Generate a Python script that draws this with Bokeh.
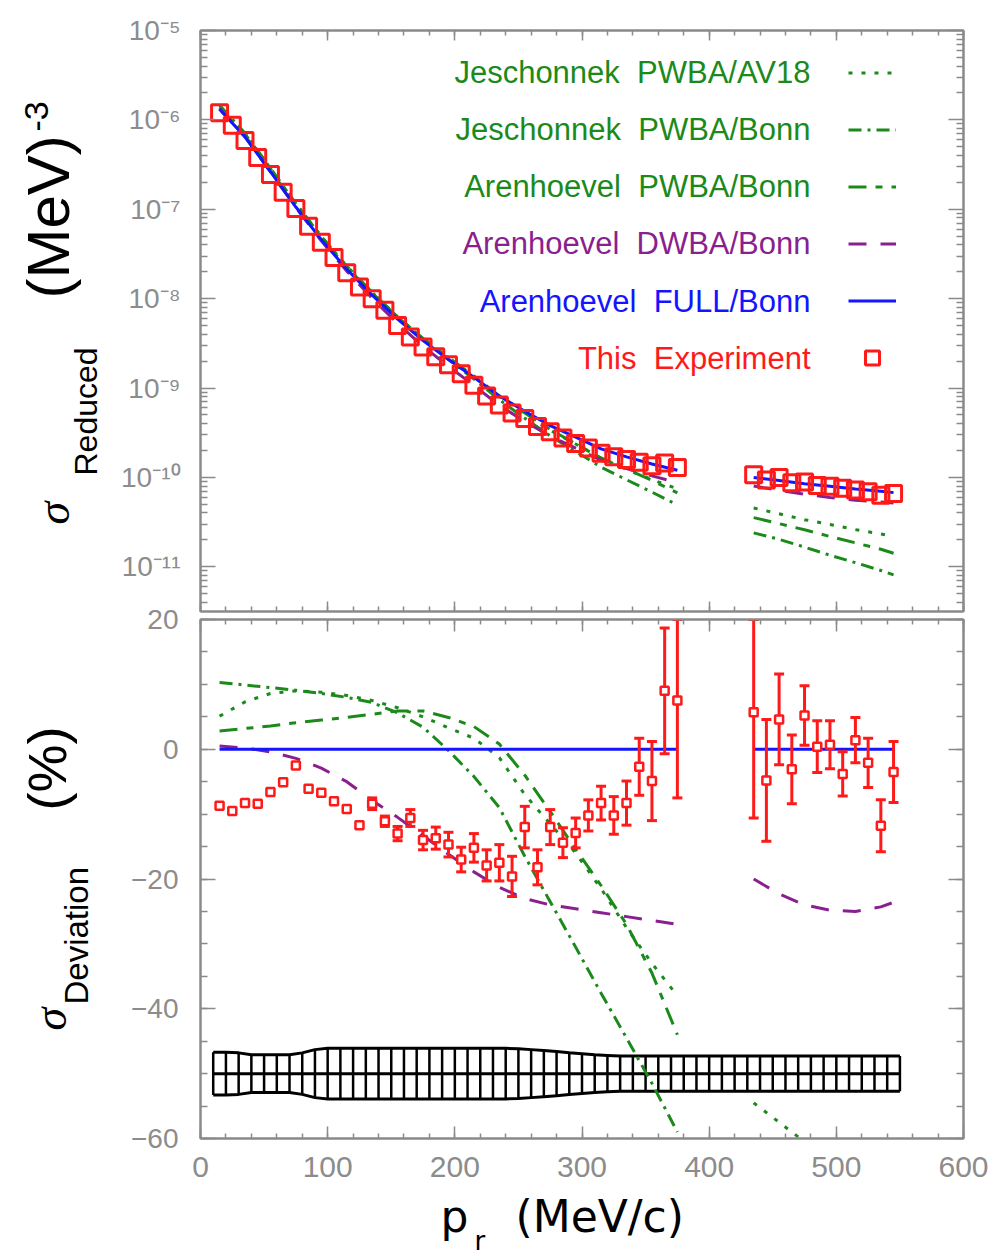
import math
import numpy as np
from bokeh.plotting import figure
from bokeh.layouts import column, row
from bokeh.models import (Range1d, LinearAxis, LogAxis, FixedTicker, Label, Legend,
                          LegendItem, CustomJSTickFormatter)
from bokeh.embed import file_html
from bokeh.resources import INLINE
from bokeh.core.properties import value

# ---------------- data ----------------
# measured points, p_r in MeV/c
pr_low = [15, 25, 35, 45, 55, 65, 75, 85, 95, 105, 115, 125, 135, 145, 155, 165, 175, 185,
          195, 205, 215, 225, 235, 245, 255, 265, 275, 285, 295, 305, 315, 325, 335, 345,
          355, 365, 375]
pr_high = [435, 445, 455, 465, 475, 485, 495, 505, 515, 525, 535, 545]

# reduced cross section, log10 of (MeV)^-3
log_sigma_low = [-5.92, -6.06, -6.23, -6.42, -6.61, -6.81, -6.99, -7.19, -7.37, -7.54, -7.71,
                 -7.87, -8.00, -8.13, -8.30, -8.43, -8.54, -8.65, -8.74, -8.84, -8.97, -9.09,
                 -9.19, -9.28, -9.34, -9.43, -9.49, -9.56, -9.62, -9.67, -9.73, -9.77, -9.80,
                 -9.83, -9.87, -9.84, -9.89]
log_sigma_high = [-9.97, -10.03, -10.00, -10.06, -10.05, -10.09, -10.10, -10.12, -10.14,
                  -10.16, -10.20, -10.18]

# deviation from FULL/Bonn (%) and statistical errors
dev_low = [-8.7, -9.5, -8.3, -8.4, -6.6, -5.1, -2.5, -6.1, -6.7, -8.0, -9.2, -11.7, -8.4,
           -11.1, -13.0, -10.6, -14.0, -13.7, -14.7, -17.0, -15.2, -17.9, -17.5, -19.6,
           -12.0, -18.2, -12.0, -14.4, -12.9, -10.2, -8.3, -10.2, -8.3, -2.7, -4.9, 9.0, 7.5]
err_low = [0, 0, 0, 0, 0, 0, 0, 0, 0, 0, 0, 0, 0.9, 0.8, 1.1, 1.3, 1.5, 1.7, 1.9, 1.9, 2.2,
           2.4, 2.8, 3.1, 3.2, 2.7, 2.7, 2.3, 2.3, 2.4, 2.6, 2.9, 3.4, 4.4, 6.1, 9.7, 15.0]
dev_high = [5.7, -4.8, 4.6, -3.1, 5.2, 0.4, 0.7, -3.8, 1.4, -2.1, -11.8, -3.5]
err_high = [16.3, 9.4, 7.0, 5.3, 4.6, 4.0, 3.7, 3.4, 3.5, 3.8, 4.0, 4.7]

# systematic error band (drawn around -50 %)
pr_sys = list(range(10, 551, 10))
sys_err = [3.3, 3.3, 3.2, 2.9, 2.9, 2.9, 2.9, 3.2, 3.7, 3.9, 3.9, 3.9, 3.9, 3.9, 3.9, 3.9,
           3.9, 3.9, 3.9, 3.9, 3.9, 3.9, 3.9, 3.9, 3.85, 3.7, 3.55, 3.4, 3.2, 3.05, 2.9, 2.8,
           2.7, 2.7, 2.7, 2.7, 2.7, 2.7, 2.7, 2.7, 2.7, 2.7, 2.7, 2.7, 2.7, 2.7, 2.7, 2.7,
           2.7, 2.7, 2.7, 2.7, 2.7, 2.7, 2.7]
band_center = -50.0

# theory curves
grid_low = [15, 35, 55, 75, 95, 115, 135, 155, 175, 195, 215, 235, 255, 275, 295, 315, 335, 355, 375]
grid_high = [435, 455, 475, 495, 515, 535, 545]

# top panel (log10 of reduced cross section)
log_full_low = [-5.88, -6.19, -6.58, -6.975, -7.34, -7.67, -7.96, -8.23, -8.47, -8.68, -8.88,
                -9.09, -9.26, -9.42, -9.55, -9.68, -9.77, -9.85, -9.92]
log_full_high = [-10.00, -10.035, -10.07, -10.10, -10.13, -10.155, -10.17]
log_av18_low = [-5.858, -6.159, -6.544, -6.938, -7.303, -7.635, -7.929, -8.203, -8.449, -8.666,
                -8.873, -9.096, -9.292, -9.473, -9.626, -9.785, -9.910, -10.024, -10.128]
log_av18_high = [-10.342, -10.407, -10.473, -10.526, -10.584, -10.633, -10.658]
log_jbonn_low = [-5.837, -6.149, -6.541, -6.937, -7.304, -7.637, -7.930, -8.206, -8.455, -8.681,
                 -8.899, -9.131, -9.338, -9.536, -9.708, -9.885, -10.026, -10.164, -10.307]
log_jbonn_high = [-10.620, -10.693, -10.780, -10.870, -10.954, -11.041, -11.091]
log_apwba_low = [-5.868, -6.176, -6.565, -6.958, -7.321, -7.649, -7.937, -8.205, -8.445, -8.659,
                 -8.865, -9.087, -9.278, -9.464, -9.623, -9.782, -9.907, -10.034, -10.172]
log_apwba_high = [-10.450, -10.517, -10.586, -10.661, -10.732, -10.803, -10.848]
log_dwba_low = [-5.878, -6.189, -6.582, -6.981, -7.353, -7.692, -7.996, -8.278, -8.532, -8.757,
                -8.971, -9.194, -9.374, -9.539, -9.673, -9.806, -9.900, -9.983, -10.057]
log_dwba_high = [-10.097, -10.145, -10.189, -10.224, -10.255, -10.276, -10.287]

# bottom panel (deviation from FULL/Bonn, %)
dev_full_low = [0.0] * 19
dev_full_high = [0.0] * 7
dev_av18_low = [5.1, 7.3, 8.6, 9.0, 8.8, 8.3, 7.5, 6.4, 5.0, 3.3, 1.7, -1.3, -7.0, -11.5,
                -16.0, -21.5, -27.5, -33.0, -38.0]
dev_av18_high = [-54.5, -57.5, -60.5, -62.5, -64.8, -66.7, -67.5]
dev_jbonn_low = [10.3, 9.9, 9.5, 9.1, 8.6, 8.0, 7.2, 5.6, 3.4, -0.2, -4.2, -9.0, -16.5, -23.5,
                 -30.5, -37.6, -44.5, -51.5, -59.0]
dev_jbonn_high = [-76.0, -78.0, -80.5, -83.0, -85.0, -87.0, -88.0]
dev_apwba_low = [2.8, 3.2, 3.6, 4.1, 4.5, 4.9, 5.4, 5.9, 5.9, 4.9, 3.5, 0.8, -4.0, -9.6, -15.4,
                 -21.0, -27.0, -34.5, -44.0]
dev_apwba_high = [-64.5, -67.0, -69.5, -72.5, -75.0, -77.5, -79.0]
dev_dwba_low = [0.5, 0.2, -0.4, -1.4, -2.9, -5.0, -7.9, -10.5, -13.3, -16.2, -18.9, -21.3,
                -23.0, -24.0, -24.6, -25.2, -25.8, -26.4, -27.0]
dev_dwba_high = [-20.0, -22.3, -24.0, -24.8, -25.0, -24.3, -23.6]

legend_labels = ["Jeschonnek\u00a0 PWBA/AV18", "Jeschonnek\u00a0 PWBA/Bonn",
                 "Arenhoevel\u00a0 PWBA/Bonn", "Arenhoevel\u00a0 DWBA/Bonn",
                 "Arenhoevel\u00a0 FULL/Bonn", "This\u00a0 Experiment"]
x_ticks = [0, 100, 200, 300, 400, 500, 600]
dev_ticks = [-60, -40, -20, 0, 20]

# ---------------- style / layout ----------------
GREEN = "#1b8a1b"
PURPLE = "#8a1f8f"
BLUE = "#1414ff"
RED = "#ff1a1a"
GRAY = "#8c8c8c"
AXIS = "#8a8a8a"
FONT = "Liberation Sans"

W, H = 1006, 1257
TITLE_W = 112                      # strip on the left holding the y titles
PLOT_W = W - TITLE_W
X_RANGE = (0, 600)
TOP_LOG = (-11.5, -5.0)
DEV_RANGE = (-60, 20)
FRAME_L, FRAME_W = 200, 763
BORDER_L = FRAME_L - TITLE_W
BORDER_R = W - FRAME_L - FRAME_W
TOP_T, TOP_H, TOP_B = 30, 581, 2
OVERLAP = 12                       # bottom canvas slides under the top one
BOT_T, BOT_H, BOT_B = 619, 519, 53
BOT_CANVAS_T = TOP_T + TOP_H + TOP_B - OVERLAP
XT_T = BOT_T + BOT_H + BOT_B       # top of the x-title strip
MID = 0.36                         # cap centre above the baseline, in font sizes

nan = float("nan")


def joined(a, b):
    return list(a) + [nan] + list(b)


def pow10(vals):
    return [10 ** v for v in vals]


def xd(px):
    return X_RANGE[0] + (px - FRAME_L) / FRAME_W * (X_RANGE[1] - X_RANGE[0])


def yt(py):
    return 10 ** (TOP_LOG[1] - (py - TOP_T) / TOP_H * (TOP_LOG[1] - TOP_LOG[0]))


def style_axis(ax, major_in, minor_in, labels=False, size="28px", standoff=12):
    ax.axis_line_color = AXIS
    ax.axis_line_width = 2
    ax.major_tick_line_color = AXIS
    ax.minor_tick_line_color = AXIS
    ax.major_tick_line_width = 1.5
    ax.minor_tick_line_width = 1.5
    ax.major_tick_in = major_in
    ax.major_tick_out = 0
    ax.minor_tick_in = minor_in
    ax.minor_tick_out = 0
    if labels:
        ax.major_label_text_font = FONT
        ax.major_label_text_font_size = size
        ax.major_label_text_color = GRAY
        ax.major_label_standoff = standoff
    else:
        ax.major_label_text_font_size = "1px"
        ax.major_label_text_color = None
        ax.major_label_standoff = 0


def x_ticker():
    return FixedTicker(ticks=x_ticks, minor_ticks=list(range(0, 601, 20)))


def log_ticker():
    return FixedTicker(ticks=[10.0 ** e for e in range(-11, -4)],
                       minor_ticks=[k * 10.0 ** e for e in range(-12, -5) for k in range(2, 10)])


def dev_ticker():
    return FixedTicker(ticks=dev_ticks, minor_ticks=list(range(-60, 21, 5)))


log_fmt = CustomJSTickFormatter(code="""
const sup = {'-': '\u207b', '0': '\u2070', '1': '\u00b9', '2': '\u00b2', '3': '\u00b3',
             '4': '\u2074', '5': '\u2075', '6': '\u2076', '7': '\u2077', '8': '\u2078', '9': '\u2079'};
const e = Math.round(Math.log10(tick));
return '10' + String(e).split('').map(c => sup[c]).join('');
""")
dev_fmt = CustomJSTickFormatter(code="return tick < 0 ? '\u2212' + Math.abs(tick) : String(tick);")


def label(fig, x, y, text, size, color="black", angle=0.0, align="left", baseline="middle",
          font=FONT, style="normal"):
    fig.add_layout(Label(x=x, y=y, text=text, angle=angle, text_align=align,
                         text_baseline=baseline, text_font=font, text_font_style=style,
                         text_font_size=f"{size}px", text_color=color))


def vlabel(fig, base_x, start_y, text, size, **kw):
    """rotated title piece: base_x = baseline column, start_y = where the text starts"""
    label(fig, base_x - MID * size, start_y, text, size, angle=math.pi / 2, **kw)


def hlabel(fig, x, base_y, text, size, **kw):
    label(fig, x, base_y - MID * size, text, size, **kw)


def blank_figure(width, height, x_range, y_range, **borders):
    f = figure(width=width, height=height, x_range=x_range, y_range=y_range,
               x_axis_location=None, y_axis_location=None, toolbar_location=None,
               output_backend="svg", min_border=0, outline_line_color=None, **borders)
    f.xgrid.visible = False
    f.ygrid.visible = False
    f.background_fill_color = None
    f.border_fill_color = None
    return f


# ---------------- top panel ----------------
x_range = Range1d(*X_RANGE)
top = figure(width=PLOT_W, height=TOP_T + TOP_H + TOP_B, x_range=x_range,
             y_range=Range1d(10 ** TOP_LOG[0], 10 ** TOP_LOG[1]), y_axis_type="log",
             output_backend="svg", toolbar_location=None,
             min_border_left=BORDER_L, min_border_right=BORDER_R,
             min_border_top=TOP_T, min_border_bottom=TOP_B)
top.xgrid.grid_line_color = None
top.ygrid.grid_line_color = None
top.outline_line_color = AXIS
top.outline_line_width = 2
top.xaxis.ticker = x_ticker()
style_axis(top.xaxis[0], 10, 5)
top.yaxis.ticker = log_ticker()
top.yaxis.formatter = log_fmt
style_axis(top.yaxis[0], 15, 7, labels=True, size="28px", standoff=20)
ax = LinearAxis(ticker=x_ticker())
style_axis(ax, 10, 5)
top.add_layout(ax, "above")
ax = LogAxis(ticker=log_ticker())
style_axis(ax, 15, 7)
top.add_layout(ax, "right")

r_av18 = top.line(joined(grid_low, grid_high), pow10(joined(log_av18_low, log_av18_high)),
                  line_color=GREEN, line_width=3, line_dash="4 9")
r_jbonn = top.line(joined(grid_low, grid_high), pow10(joined(log_jbonn_low, log_jbonn_high)),
                   line_color=GREEN, line_width=3, line_dash="13 6 3 6")
r_apwba = top.line(joined(grid_low, grid_high), pow10(joined(log_apwba_low, log_apwba_high)),
                   line_color=GREEN, line_width=3, line_dash="18 9 7 9")
r_dwba = top.line(joined(grid_low, grid_high), pow10(joined(log_dwba_low, log_dwba_high)),
                  line_color=PURPLE, line_width=3, line_dash="18 14")
r_full = top.line(joined(grid_low, grid_high), pow10(joined(log_full_low, log_full_high)),
                  line_color=BLUE, line_width=3)
r_data = top.scatter(pr_low + pr_high, pow10(log_sigma_low + log_sigma_high), marker="square",
                     size=16, line_color=RED, line_width=3, fill_alpha=0)

legend = Legend(items=[LegendItem(label=value(" "), renderers=[r]) for r in
                       [r_av18, r_jbonn, r_apwba, r_dwba, r_full, r_data]],
                location=(648, 236), orientation="vertical", glyph_width=48, glyph_height=35,
                label_width=1, label_height=35, label_standoff=0, spacing=22, padding=0,
                margin=0, border_line_alpha=0, background_fill_alpha=0,
                label_text_font_size="8px", label_text_color=None)
top.add_layout(legend)

legend_rows = [72, 129, 186, 243, 301, 358]
legend_colors = [GREEN, GREEN, GREEN, PURPLE, BLUE, RED]
for txt, rr, col in zip(legend_labels, legend_rows, legend_colors):
    label(top, xd(810), yt(rr), txt, 31, color=col, align="right")

# ---------------- bottom panel ----------------
bot = figure(width=PLOT_W, height=(BOT_T - BOT_CANVAS_T) + BOT_H + BOT_B, x_range=x_range,
             y_range=Range1d(*DEV_RANGE), output_backend="svg", toolbar_location=None,
             min_border_left=BORDER_L, min_border_right=BORDER_R,
             min_border_top=BOT_T - BOT_CANVAS_T, min_border_bottom=BOT_B)
bot.margin = (-OVERLAP, 0, 0, 0)
bot.border_fill_color = None
bot.xgrid.grid_line_color = None
bot.ygrid.grid_line_color = None
bot.outline_line_color = AXIS
bot.outline_line_width = 2
bot.xaxis.ticker = x_ticker()
style_axis(bot.xaxis[0], 12, 5, labels=True, size="30px", standoff=18)
bot.yaxis.ticker = dev_ticker()
bot.yaxis.formatter = dev_fmt
style_axis(bot.yaxis[0], 15, 7, labels=True, size="28px", standoff=22)
ax = LinearAxis(ticker=x_ticker())
style_axis(ax, 12, 5)
bot.add_layout(ax, "above")
ax = LinearAxis(ticker=dev_ticker())
style_axis(ax, 15, 7)
bot.add_layout(ax, "right")

# systematic band
sys_arr = np.array(sys_err)
center = np.full(len(pr_sys), band_center)
bot.segment(x0=pr_sys, y0=center - sys_arr, x1=pr_sys, y1=center + sys_arr,
            line_color="black", line_width=2.5)
for yy in (center - sys_arr, center, center + sys_arr):
    bot.line(pr_sys, yy, line_color="black", line_width=3)

# theory curves
bot.line(joined(grid_low, grid_high), joined(dev_av18_low, dev_av18_high),
         line_color=GREEN, line_width=3, line_dash="4 9")
bot.line(joined(grid_low, grid_high), joined(dev_jbonn_low, dev_jbonn_high),
         line_color=GREEN, line_width=3, line_dash="13 6 3 6")
bot.line(joined(grid_low, grid_high), joined(dev_apwba_low, dev_apwba_high),
         line_color=GREEN, line_width=3, line_dash="18 9 7 9")
bot.line(joined(grid_low, grid_high), joined(dev_dwba_low, dev_dwba_high),
         line_color=PURPLE, line_width=3, line_dash="18 14")
bot.line(joined(grid_low, grid_high), joined(dev_full_low, dev_full_high),
         line_color=BLUE, line_width=3)

# data with error bars
px_all = np.array(pr_low + pr_high, dtype=float)
dv_all = np.array(dev_low + dev_high)
er_all = np.array(err_low + err_high)
has_err = er_all > 0
xe = px_all[has_err]
lo = dv_all[has_err] - er_all[has_err]
hi = np.minimum(dv_all[has_err] + er_all[has_err], DEV_RANGE[1])
bot.segment(x0=xe, y0=lo, x1=xe, y1=hi, line_color=RED, line_width=3)
bot.scatter(np.concatenate([xe, xe]), np.concatenate([lo, hi]), marker="dash", size=10,
            line_color=RED, line_width=3)
bot.scatter(px_all, dv_all, marker="square", size=8, line_color=RED, line_width=2.5,
            fill_color="white")

# ---------------- x title (strip below the bottom panel, page-pixel coordinates) ----------------
xtitle = blank_figure(PLOT_W, H - XT_T, Range1d(FRAME_L, FRAME_L + FRAME_W), Range1d(H, XT_T),
                      min_border_left=BORDER_L, min_border_right=BORDER_R)
hlabel(xtitle, 440, 1232, "p", 44, font="DejaVu Sans")
hlabel(xtitle, 474, 1250, "r", 26, font="DejaVu Sans")
hlabel(xtitle, 515, 1232, "(MeV/c)", 44, font="DejaVu Sans")

# ---------------- y titles (left strip, page-pixel coordinates) ----------------
ytitles = blank_figure(TITLE_W, H, Range1d(0, TITLE_W), Range1d(H, 0))
vlabel(ytitles, 70, 524, "σ", 46, font="Liberation Serif", style="italic")
vlabel(ytitles, 97, 475, "Reduced", 32)
vlabel(ytitles, 70, 298, "(MeV)", 60)
vlabel(ytitles, 48, 131, "-3", 34)
vlabel(ytitles, 67, 1030, "σ", 46, font="Liberation Serif", style="italic")
vlabel(ytitles, 88, 1004, "Deviation", 33)
vlabel(ytitles, 66, 810, "(%)", 54)

layout = row(ytitles, column(top, bot, xtitle, spacing=0), spacing=0)
open("out.html", "w").write(file_html(layout, INLINE))
